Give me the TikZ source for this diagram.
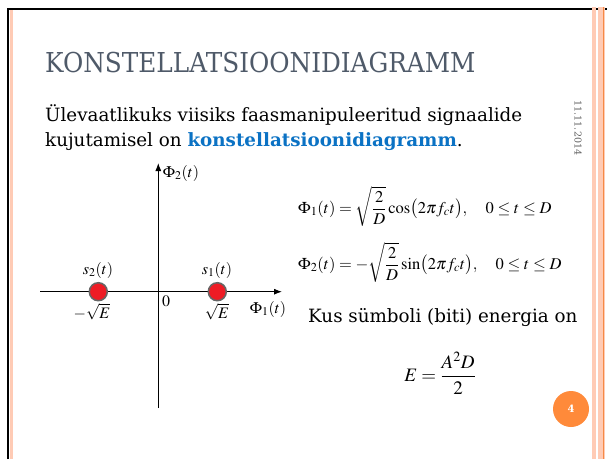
\documentclass[tikz,border=0pt]{standalone}
\usepackage{amsmath}
\usepackage{mathptmx}
\usepackage{graphicx}
\usepackage[no-math]{fontspec}
\setmainfont{DejaVu Serif}
\usetikzlibrary{arrows.meta}
\definecolor{titlegray}{HTML}{4F5A69}
\definecolor{linkblue}{HTML}{0B72C4}
\definecolor{pinkbar}{HTML}{FFCBB5}
\definecolor{orangebar}{HTML}{F58A45}
\definecolor{badge}{HTML}{FF8A3A}
\definecolor{dotred}{HTML}{EE1C25}
\definecolor{dategray}{HTML}{606060}
\tikzset{
  axis/.style={line width=0.9pt,-{Latex[length=8pt,width=6pt]}},
  dot/.style={circle,fill=dotred,draw=gray!80!black,line width=1.5pt,minimum size=18pt,inner sep=0pt},
  lbl/.style={font=\fontsize{16}{19}\selectfont,inner sep=0pt},
  eq/.style={font=\fontsize{16.5}{20}\selectfont,anchor=west,inner sep=0pt},
  body/.style={font=\fontsize{18.3}{22}\selectfont,anchor=base west,inner sep=0pt}
}
\begin{document}
\begin{tikzpicture}[x=1pt,y=-1pt]
\useasboundingbox (0,0) rectangle (607,459);
\fill[white] (0,0) rectangle (607,459);
% frame
\draw[line width=2.5pt] (8,459) -- (8,9) -- (607,9);
\fill[pinkbar] (9.5,10) rectangle (12.5,459);
\fill[pinkbar] (592,7) rectangle (596,459);
\fill[pinkbar] (598,7) rectangle (605,459);
\draw[orangebar,line width=1pt] (603,7) -- (603,459);
% title
\node[anchor=base west,inner sep=0pt,text=titlegray,font=\fontsize{27.4}{32}\selectfont] (title) at (45,72) {\scalebox{0.903}[1]{KONSTELLATSIOONIDIAGRAMM}};
\node[body] (l1) at (45,121) {Ülevaatlikuks viisiks faasmanipuleeritud signaalide};
\node[body] (l2) at (45,146) {kujutamisel on \textcolor{linkblue}{\textbf{konstellatsioonidiagramm}}.};
\node[rotate=-90,inner sep=0pt,text=dategray,font=\fontsize{9.5}{10}\selectfont] (date) at (578,128) {11.11.2014};
% axes
\coordinate (xl) at (40,291.7);
\coordinate (xr) at (282,291.7);
\coordinate (yb) at (158.3,408);
\coordinate (yt) at (158.3,163);
\draw[axis] (xl) -- (xr);
\draw[axis] (yb) -- (yt);
\node[dot] (s2) at (98.3,291.7) {};
\node[dot] (s1) at (217.3,291.7) {};
\node[lbl] (s2l) at (98,270) {$s_2(t)$};
\node[lbl] (s1l) at (217,270) {$s_1(t)$};
\node[lbl] (zero) at (166,301) {$0$};
\node[lbl] (mE) at (92,312) {$-\sqrt{E}$};
\node[lbl] (pE) at (217,312) {$\sqrt{E}$};
\node[lbl] (phi1) at (268,309) {$\Phi_1(t)$};
\node[lbl] (phi2) at (181,173) {$\Phi_2(t)$};
% equations
\node[eq] (eq1) at (298,206) {$\displaystyle \Phi_1(t)=\sqrt{\frac{2}{D}}\cos\bigl(2\pi f_c t\bigr),\quad 0\le t\le D$};
\node[eq] (eq2) at (298,262) {$\displaystyle \Phi_2(t)=-\sqrt{\frac{2}{D}}\sin\bigl(2\pi f_c t\bigr),\quad 0\le t\le D$};
\node[body] (kus) at (308,322) {Kus sümboli (biti) energia on};
\node[inner sep=0pt,font=\fontsize{19}{22}\selectfont] (energy) at (440,373) {$\displaystyle E=\frac{A^2D}{2}$};
% page badge
\node[circle,fill=badge,minimum size=36pt,inner sep=0pt,text=white,font=\fontsize{10}{12}\selectfont\bfseries] (page) at (571,409) {4};
\end{tikzpicture}
\end{document}
